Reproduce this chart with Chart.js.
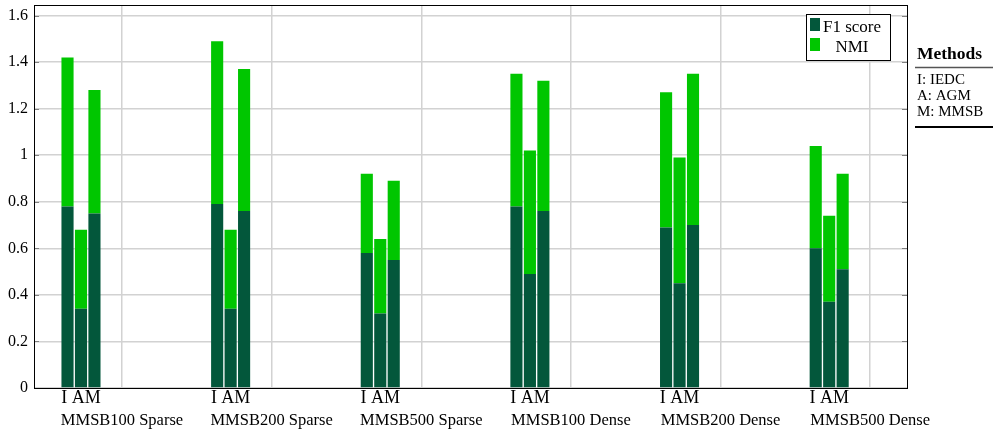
<!DOCTYPE html>
<html><head><meta charset="utf-8">
<script src="https://cdn.jsdelivr.net/npm/chart.js@4/dist/chart.umd.min.js"></script>
<style>html,body{margin:0;padding:0;background:#fff;}canvas{display:block;}</style>
</head><body>
<canvas id="c" width="993" height="431"></canvas>
<script>
// ---- data ----
const categories = ['MMSB100 Sparse','MMSB200 Sparse','MMSB500 Sparse','MMSB100 Dense','MMSB200 Dense','MMSB500 Dense'];
const methods = ['I','A','M'];
const methodNames = ['IEDC','AGM','MMSB'];
const methodsTitle = 'Methods';
const groupTickLabel = 'I AM';
const seriesNames = ['F1 score','NMI'];
const f1I  = [0.78,0.79,0.58,0.78,0.69,0.60];
const nmiI = [0.64,0.70,0.34,0.57,0.58,0.44];
const f1A  = [0.34,0.34,0.32,0.49,0.45,0.37];
const nmiA = [0.34,0.34,0.32,0.53,0.54,0.37];
const f1M  = [0.75,0.76,0.55,0.76,0.70,0.51];
const nmiM = [0.53,0.61,0.34,0.56,0.65,0.41];
const yTicks = [0,0.2,0.4,0.6,0.8,1,1.2,1.4,1.6];

// ---- style / layout ----
const FONT = "'Liberation Serif','Times New Roman',serif";
const C_F1 = '#03573b', C_NMI = '#00c600', C_GRID = '#d2d2d2';
const X_MIN = -0.314, X_MAX = 5.52, Y_MAX = 1.641;
const NAME_TICK_OFFSET = 0.274;

const parts = [[f1I,nmiI],[f1A,nmiA],[f1M,nmiM]];
const datasets = [];
methods.forEach((m, mi) => {
  datasets.push({label: seriesNames[0], stack: m, backgroundColor: C_F1,
    data: parts[mi][0].map((v,g)=>({x:g, y:v}))});
  datasets.push({label: seriesNames[1], stack: m, backgroundColor: C_NMI,
    data: parts[mi][1].map((v,g)=>({x:g, y:v}))});
});

const decor = {
  id: 'decor',
  afterDatasetsDraw(chart) {
    const {ctx, chartArea: a, scales: {y}} = chart;
    ctx.save();
    // inner tick marks
    ctx.strokeStyle = '#808080'; ctx.lineWidth = 1;
    yTicks.forEach(v => {
      const py = Math.round(y.getPixelForValue(v)) + 0.5;
      ctx.beginPath();
      ctx.moveTo(a.left, py); ctx.lineTo(a.left + 5, py);
      ctx.moveTo(a.right - 5, py); ctx.lineTo(a.right, py);
      ctx.stroke();
    });
    // frame
    ctx.strokeStyle = '#000'; ctx.lineWidth = 1;
    ctx.strokeRect(a.left + 0.5, a.top - 0.5, a.right - a.left, a.bottom - a.top + 1);
    // legend
    const lx = a.right - 101, ly = a.top + 8, lw = 84, lh = 46;
    ctx.fillStyle = '#fff'; ctx.fillRect(lx, ly, lw, lh);
    ctx.strokeRect(lx + 0.5, ly + 0.5, lw, lh);
    const ds = chart.data.datasets;
    ctx.font = '17px ' + FONT; ctx.textAlign = 'center'; ctx.textBaseline = 'alphabetic';
    [0,1].forEach(i => {
      ctx.fillStyle = ds[i].backgroundColor;
      ctx.fillRect(lx + 4, ly + 4 + i*20, 10, 13);
      ctx.fillStyle = '#000';
      ctx.fillText(ds[i].label, lx + 46, ly + 18 + i*20);
    });
    // methods table
    const tx = a.right + 10, rx0 = a.right + 8, rx1 = chart.width;
    ctx.textAlign = 'left';
    ctx.font = 'bold 17.5px ' + FONT;
    ctx.fillText(methodsTitle, tx, 59);
    ctx.strokeStyle = '#555'; ctx.lineWidth = 1.3;
    ctx.beginPath(); ctx.moveTo(rx0, 67.5); ctx.lineTo(rx1, 67.5); ctx.stroke();
    ctx.font = '15px ' + FONT;
    methods.forEach((m, i) => ctx.fillText(m + ': ' + methodNames[i], tx, 84 + i*16));
    ctx.strokeStyle = '#000'; ctx.lineWidth = 2;
    ctx.beginPath(); ctx.moveTo(rx0, 127); ctx.lineTo(rx1, 127); ctx.stroke();
    ctx.restore();
  }
};

new Chart(document.getElementById('c'), {
  type: 'bar',
  data: { datasets },
  plugins: [decor],
  options: {
    responsive: false, animation: false, devicePixelRatio: 1, events: [],
    categoryPercentage: 0.27, barPercentage: 0.9,
    layout: { autoPadding: false, padding: {left: 0, top: 6, right: 86, bottom: 0} },
    plugins: { legend: {display: false}, tooltip: {enabled: false} },
    scales: {
      x: {
        type: 'linear', position: 'bottom', min: X_MIN, max: X_MAX, weight: 0, offset: false,
        afterBuildTicks: s => { s.ticks = categories.map((_, i) => ({value: i})); },
        ticks: {callback: () => groupTickLabel, font: {family: FONT, size: 18, lineHeight: 1},
                color: '#000', padding: 1, autoSkip: false, maxRotation: 0, minRotation: 0},
        grid: {display: false, drawTicks: false, offset: false},
        border: {display: false},
        afterFit: s => { s.height = 21; s.paddingLeft = 0; s.paddingRight = 0; }
      },
      xNames: {
        type: 'linear', position: 'bottom', min: X_MIN, max: X_MAX, weight: 1, offset: false,
        afterBuildTicks: s => { s.ticks = categories.map((_, i) => ({value: i + NAME_TICK_OFFSET})); },
        ticks: {callback: (v, i) => categories[i], font: {family: FONT, size: 16.5, lineHeight: 1},
                color: '#000', padding: 3, autoSkip: false, maxRotation: 0, minRotation: 0},
        grid: {display: true, color: C_GRID, lineWidth: 1.5, drawTicks: false, offset: false},
        border: {display: false},
        afterFit: s => { s.height = 22; s.paddingLeft = 0; s.paddingRight = 0; }
      },
      y: {
        type: 'linear', min: 0, max: Y_MAX, stacked: true,
        afterBuildTicks: s => { s.ticks = yTicks.map(v => ({value: v})); },
        ticks: {callback: v => String(v), font: {family: FONT, size: 16}, color: '#000', padding: 6},
        grid: {color: C_GRID, lineWidth: 1.5, drawTicks: false},
        border: {display: false},
        afterFit: s => { s.width = 34; s.paddingTop = 0; s.paddingBottom = 0; }
      }
    }
  }
});
</script>
</body></html>
